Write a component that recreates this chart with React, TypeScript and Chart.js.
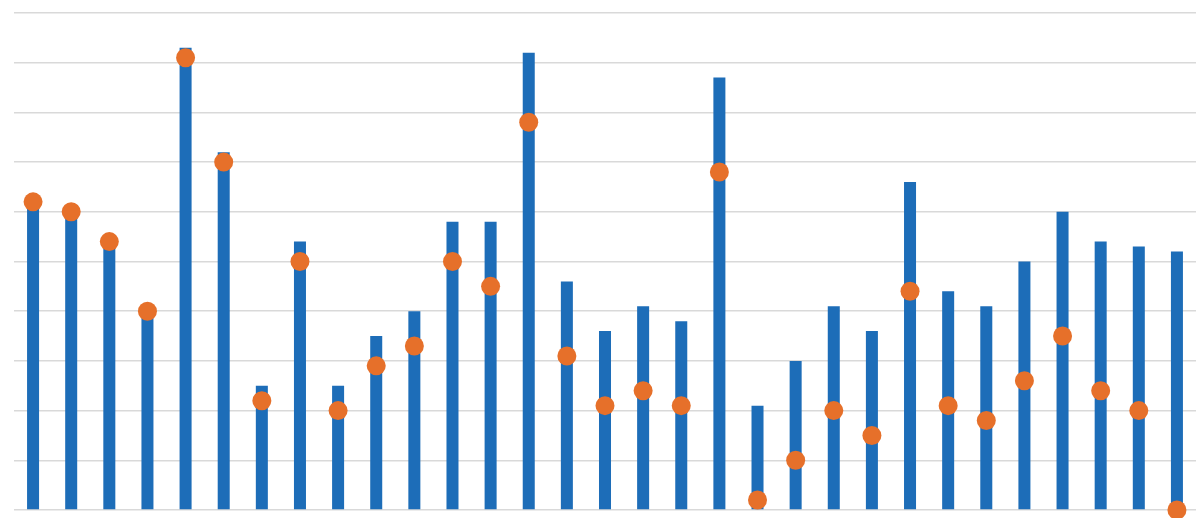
import React, { useEffect, useRef } from "react";
import { Chart, registerables } from "chart.js";

Chart.register(...registerables);

const categories: string[] = Array.from({ length: 31 }, (_, i) => String(i + 1));

const barValues: number[] = [
  6.1, 5.9, 5.3, 3.9, 9.3, 7.2, 2.5, 5.4, 2.5, 3.5, 4.0, 5.8, 5.8, 9.2, 4.6, 3.6,
  4.1, 3.8, 8.7, 2.1, 3.0, 4.1, 3.6, 6.6, 4.4, 4.1, 5.0, 6.0, 5.4, 5.3, 5.2,
];

const pointValues: number[] = [
  6.2, 6.0, 5.4, 4.0, 9.1, 7.0, 2.2, 5.0, 2.0, 2.9, 3.3, 5.0, 4.5, 7.8, 3.1, 2.1,
  2.4, 2.1, 6.8, 0.2, 1.0, 2.0, 1.5, 4.4, 2.1, 1.8, 2.6, 3.5, 2.4, 2.0, 0,
];

const yMin = 0;
const yMax = 10;
const yStep = 1;

const BLUE = "#1D6DB8";
const ORANGE = "#E6702A";
const GRID = "#D9D9D9";

export default function App() {
  const ref = useRef<HTMLCanvasElement | null>(null);

  useEffect(() => {
    if (!ref.current) return;
    const chart = new Chart(ref.current, {
      type: "bar",
      data: {
        labels: categories,
        datasets: [
          {
            type: "line",
            data: pointValues,
            showLine: false,
            pointRadius: 9.5,
            pointHoverRadius: 9.5,
            pointBackgroundColor: ORANGE,
            pointBorderWidth: 0,
            borderColor: ORANGE,
            backgroundColor: ORANGE,
            order: 0,
            clip: false,
          } as any,
          {
            type: "bar",
            data: barValues,
            backgroundColor: BLUE,
            borderWidth: 0,
            barPercentage: 0.315,
            categoryPercentage: 1,
            order: 1,
          },
        ],
      },
      options: {
        animation: false,
        responsive: false,
        maintainAspectRatio: false,
        layout: { autoPadding: false, padding: { left: 14, right: 4, top: 13, bottom: 8 } },
        plugins: { legend: { display: false }, tooltip: { enabled: false } },
        scales: {
          x: {
            display: false,
          },
          y: {
            min: yMin,
            max: yMax,
            ticks: { display: false, stepSize: yStep },
            grid: { color: GRID, lineWidth: 1.5, drawTicks: false },
            border: { display: false },
          },
        },
      },
    });
    return () => chart.destroy();
  }, []);

  return (
    <div style={{ position: "fixed", left: 0, top: 0, width: 1200, height: 518, background: "#fff" }}>
      <canvas ref={ref} width={1200} height={518} />
    </div>
  );
}
